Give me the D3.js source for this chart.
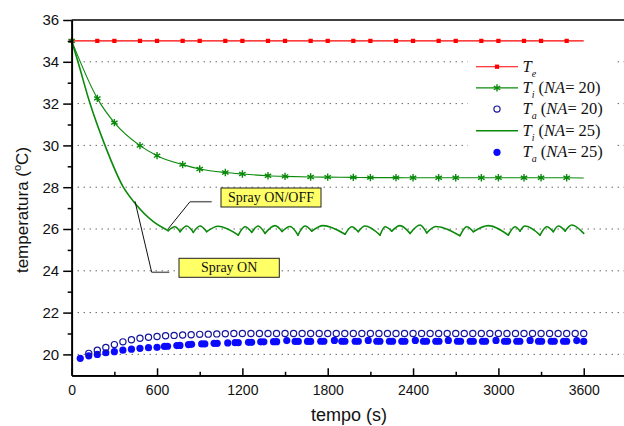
<!DOCTYPE html>
<html>
<head>
<meta charset="utf-8">
<script src="https://cdn.jsdelivr.net/npm/d3@7"></script>
<style>
  html, body { margin: 0; padding: 0; background: #fff; overflow: hidden; }
  svg { display: block; }
</style>
</head>
<body>
<svg id="chart" width="624" height="426"></svg>
<script>
// ---- data ---------------------------------------------------------------
// sampled series (markers on every sample except the final one at 3600 s)
const sampleTimes = [0, 180, 300, 480, 600, 780, 900, 1080, 1200, 1380, 1500, 1680, 1800,
  1980, 2100, 2280, 2400, 2580, 2700, 2880, 3000, 3180, 3300, 3480, 3600];
const teValues = [35, 35, 35, 35, 35, 35, 35, 35, 35, 35, 35, 35, 35,
  35, 35, 35, 35, 35, 35, 35, 35, 35, 35, 35, 35];
const ti20Values = [35, 32.25, 31.09, 29.99, 29.51, 29.08, 28.87, 28.70, 28.63, 28.55, 28.52, 28.49, 28.48,
  28.47, 28.46, 28.46, 28.45, 28.45, 28.45, 28.45, 28.45, 28.45, 28.45, 28.45, 28.44];

// inner temperature with NA = 25 (spray ON, then ON/OFF cycling)
const ti25Times = [0, 44, 129, 234, 363, 445, 574, 679,
  726, 762, 809, 855, 902, 949, 1029, 1171, 1219, 1266, 1310, 1359, 1430, 1479, 1535, 1591,
  1640, 1688, 1767, 1922, 1969, 2015, 2062, 2168, 2203, 2250, 2308, 2379, 2449, 2496, 2560,
  2730, 2777, 2824, 2929, 3070, 3117, 3152, 3187, 3293, 3340, 3386, 3422, 3469, 3516, 3600];
const ti25Values = [35, 34, 32, 30, 28, 27.23, 26.35, 25.92,
  26.11, 25.87, 26.14, 25.84, 26.14, 25.87, 26.13, 25.71, 26.11, 25.84, 26.14, 25.79, 26.16, 25.88, 26.12, 25.71,
  26.14, 25.90, 26.16, 25.75, 26.11, 25.87, 26.14, 25.71, 26.11, 25.90, 26.16, 25.79, 26.19, 25.81, 26.12,
  25.68, 26.11, 25.87, 26.16, 25.71, 26.11, 25.90, 26.14, 25.71, 26.11, 25.87, 26.14, 25.90, 26.19, 25.79];

// air temperature, NA = 20 (every 60 s)
const ta20Times = [120, 180, 240, 300, 360, 420, 480, 540, 600, 660, 720, 780, 840, 900, 960, 1020, 1080, 1140, 1200,
  1260, 1320, 1380, 1440, 1500, 1560, 1620, 1680, 1740, 1800, 1860, 1920, 1980, 2040, 2100, 2160, 2220, 2280,
  2340, 2400, 2460, 2520, 2580, 2640, 2700, 2760, 2820, 2880, 2940, 3000, 3060, 3120, 3180, 3240, 3300, 3360,
  3420, 3480, 3540, 3600];
const ta20Values = [20.05, 20.2, 20.33, 20.47, 20.6, 20.7, 20.77, 20.82, 20.86, 20.89, 20.91, 20.93, 20.94, 20.96, 20.97, 20.98, 20.99, 21.0, 21.0,
  21.0, 21.0, 21.0, 21.0, 21.0, 21.0, 21.0, 21.0, 21.0, 21.0, 21.0, 21.0, 21.0, 21.0, 21.0, 21.0, 21.0, 21.0,
  21.0, 21.0, 21.0, 21.0, 21.0, 21.0, 21.0, 21.0, 21.0, 21.0, 21.0, 21.0, 21.0, 21.0, 21.0, 21.0, 21.0, 21.0,
  21.0, 21.0, 21.0, 21.0];

// air temperature, NA = 25 (irregular output steps)
const ta25Times = [60, 120, 180, 240, 300, 360, 420, 480, 540, 600, 652, 674, 739, 761, 821, 843, 914, 936,
  1001, 1023, 1097, 1149, 1171, 1243, 1265, 1329, 1351, 1419, 1441, 1512, 1571, 1593, 1658, 1680,
  1751, 1773, 1847, 1899, 1921, 1993, 2015, 2085, 2145, 2167, 2234, 2256, 2321, 2343, 2416,
  2473, 2495, 2560, 2582, 2648, 2712, 2734, 2802, 2824, 2888, 2910, 2983, 3043, 3065, 3129, 3151,
  3223, 3282, 3304, 3371, 3393, 3458, 3480, 3551, 3600];
const ta25Values = [19.81, 19.93, 20.0, 20.08, 20.13, 20.2, 20.25, 20.29, 20.32, 20.34, 20.38, 20.39, 20.42, 20.43, 20.47, 20.48, 20.5, 20.5,
  20.53, 20.53, 20.55, 20.56, 20.56, 20.58, 20.58, 20.6, 20.6, 20.61, 20.61, 20.66, 20.62, 20.62, 20.62, 20.62,
  20.63, 20.63, 20.67, 20.63, 20.63, 20.63, 20.63, 20.67, 20.63, 20.63, 20.63, 20.63, 20.63, 20.63, 20.67,
  20.63, 20.63, 20.63, 20.63, 20.67, 20.63, 20.63, 20.63, 20.63, 20.63, 20.63, 20.67, 20.63, 20.63, 20.63, 20.63,
  20.67, 20.63, 20.63, 20.63, 20.63, 20.63, 20.63, 20.66, 20.62];

const xTicks = [0, 600, 1200, 1800, 2400, 3000, 3600];
const xMinorTicks = [300, 900, 1500, 2100, 2700, 3300, 3900];
const yTicks = [20, 22, 24, 26, 28, 30, 32, 34, 36];
const yMinorTicks = [21, 23, 25, 27, 29, 31, 33, 35];
const gridValues = [20, 22, 24, 26, 28, 30, 32, 34];

// ---- layout -------------------------------------------------------------
const svg = d3.select("#chart");
const plotLeft = 71.7, plotRight = 626.4, plotTop = 20, plotBottom = 375.3;

const x = d3.scaleLinear().domain([0, 3900]).range([plotLeft, plotRight]);
const y = d3.scaleLinear().domain([19, 36]).range([plotBottom, plotTop]);

const sans = "'Liberation Sans', Arial, sans-serif";
const serif = "'Liberation Serif', 'Times New Roman', serif";

// dotted horizontal grid
svg.append("g").selectAll("line").data(gridValues).join("line")
  .attr("x1", plotLeft).attr("x2", plotRight)
  .attr("y1", d => y(d)).attr("y2", d => y(d))
  .attr("stroke", "#222").attr("stroke-width", 1)
  .attr("stroke-dasharray", "1,5");

const zip = (ts, vs) => ts.map((t, i) => ({ t, v: vs[i] }));
const line = d3.line().x(d => x(d.t)).y(d => y(d.v)).curve(d3.curveMonotoneX);

const teData = zip(sampleTimes, teValues);
const ti20Data = zip(sampleTimes, ti20Values);
const ti25Data = zip(ti25Times, ti25Values);
const ta20Data = zip(ta20Times, ta20Values);
const ta25Data = zip(ta25Times, ta25Values);

const red = "#ff0000", green = "#0a8a0a", navy = "#14149c", blue = "#0a0aff";

// T_i (NA=25): split at every local minimum so each cooling cusp stays sharp
// while the reheating humps stay rounded
const segments = [];
let start = 0;
for (let i = 1; i < ti25Data.length - 1; i++) {
  if (ti25Data[i].v < ti25Data[i - 1].v && ti25Data[i].v < ti25Data[i + 1].v) {
    segments.push(ti25Data.slice(start, i + 1));
    start = i;
  }
}
segments.push(ti25Data.slice(start));
svg.append("g").selectAll("path").data(segments).join("path")
  .attr("d", line).attr("fill", "none")
  .attr("stroke", green).attr("stroke-width", 1.6)
  .attr("stroke-linecap", "round").attr("stroke-linejoin", "round");

// T_i (NA=20)
svg.append("path").datum(ti20Data)
  .attr("d", line).attr("fill", "none")
  .attr("stroke", green).attr("stroke-width", 1.1);

// T_e
svg.append("path").datum(teData)
  .attr("d", line).attr("fill", "none")
  .attr("stroke", red).attr("stroke-width", 1.1);

const square = d3.symbol().type(d3.symbolSquare).size(18);
const star = d3.symbol().type(d3.symbolAsterisk).size(38);

svg.append("g").selectAll("path").data(teData.slice(0, -1)).join("path")
  .attr("transform", d => `translate(${x(d.t)},${y(d.v)})`)
  .attr("d", square).attr("fill", red);

svg.append("g").selectAll("path").data(ti20Data.slice(0, -1)).join("path")
  .attr("transform", d => `translate(${x(d.t)},${y(d.v)})`)
  .attr("d", star).attr("fill", "none")
  .attr("stroke", green).attr("stroke-width", 1.4);

// T_a (NA=25), filled
svg.append("g").selectAll("circle").data(ta25Data).join("circle")
  .attr("cx", d => x(d.t)).attr("cy", d => y(d.v)).attr("r", 3.6)
  .attr("fill", blue);

// T_a (NA=20), open
svg.append("g").selectAll("circle").data(ta20Data).join("circle")
  .attr("cx", d => x(d.t)).attr("cy", d => y(d.v)).attr("r", 3.1)
  .attr("fill", "none").attr("stroke", navy).attr("stroke-width", 1.2);

// ---- legend -------------------------------------------------------------
const legend = svg.append("g");
legend.append("rect").attr("x", 468).attr("y", 54).attr("width", 147).attr("height", 112).attr("fill", "#fff");

const legendItems = [
  { sub: "e", tail: null, kind: "te" },
  { sub: "i", tail: "20", kind: "ti20" },
  { sub: "a", tail: "20", kind: "ta20" },
  { sub: "i", tail: "25", kind: "ti25" },
  { sub: "a", tail: "25", kind: "ta25" }
];
const rowY = [66.7, 87.9, 109.1, 130.8, 152.3];
const symX0 = 476, symX1 = 518, symXc = 497, textX = 522.5;

legendItems.forEach((it, i) => {
  const cy = rowY[i];
  const g = legend.append("g");
  if (it.kind === "te" || it.kind === "ti20" || it.kind === "ti25") {
    g.append("line").attr("x1", symX0).attr("x2", symX1).attr("y1", cy).attr("y2", cy)
      .attr("stroke", it.kind === "te" ? red : green)
      .attr("stroke-width", it.kind === "ti25" ? 1.6 : 1.1);
  }
  if (it.kind === "te") {
    g.append("path").attr("transform", `translate(${symXc},${cy})`).attr("d", square).attr("fill", red);
  } else if (it.kind === "ti20") {
    g.append("path").attr("transform", `translate(${symXc},${cy})`).attr("d", star)
      .attr("fill", "none").attr("stroke", green).attr("stroke-width", 1.4);
  } else if (it.kind === "ta20") {
    g.append("circle").attr("cx", symXc).attr("cy", cy).attr("r", 3.1)
      .attr("fill", "none").attr("stroke", navy).attr("stroke-width", 1.2);
  } else if (it.kind === "ta25") {
    g.append("circle").attr("cx", symXc).attr("cy", cy).attr("r", 3.6).attr("fill", blue);
  }
  const t = g.append("text").attr("x", textX).attr("y", cy + 5)
    .attr("font-family", serif).attr("font-size", 16.5).attr("fill", "#111");
  t.append("tspan").attr("font-style", "italic").text("T");
  t.append("tspan").attr("font-style", "italic").attr("font-size", 10).attr("dy", 5).text(it.sub);
  if (it.tail) {
    t.append("tspan").attr("dy", -5).text(" (");
    t.append("tspan").attr("font-style", "italic").text("NA");
    t.append("tspan").text("= " + it.tail + ")");
  }
});

// ---- annotations --------------------------------------------------------
const notes = [
  { label: "Spray ON/OFF", t: 679, v: 25.92, elbow: [190, 201.7], lineEnd: 211.7, box: [221, 188, 100, 19] },
  { label: "Spray ON", t: 445, v: 27.23, elbow: [151.7, 272.3], lineEnd: 169.3, box: [179, 258.3, 100.3, 19] }
];
notes.forEach(n => {
  const g = svg.append("g");
  g.append("line").attr("x1", x(n.t)).attr("y1", y(n.v) - 2)
    .attr("x2", n.elbow[0]).attr("y2", n.elbow[1])
    .attr("stroke", "#111").attr("stroke-width", 1);
  g.append("line").attr("x1", n.elbow[0]).attr("y1", n.elbow[1])
    .attr("x2", n.lineEnd).attr("y2", n.elbow[1])
    .attr("stroke", "#666").attr("stroke-width", 1.5);
  g.append("rect").attr("x", n.box[0]).attr("y", n.box[1])
    .attr("width", n.box[2]).attr("height", n.box[3])
    .attr("fill", "#ffff66").attr("stroke", "#222").attr("stroke-width", 1);
  g.append("text").attr("x", n.box[0] + n.box[2] / 2).attr("y", n.box[1] + 14)
    .attr("text-anchor", "middle").attr("font-family", serif).attr("font-size", 14)
    .attr("fill", "#111").text(n.label);
});

// ---- axes ---------------------------------------------------------------
const axisStyle = g => {
  g.selectAll(".domain").attr("stroke", "#000").attr("stroke-width", 1.7);
  g.selectAll(".tick line").attr("stroke", "#000").attr("stroke-width", 1.5);
};

svg.append("g").attr("transform", `translate(0,${plotBottom})`)
  .call(d3.axisBottom(x).tickValues(xMinorTicks).tickSizeInner(-3.5).tickSizeOuter(0).tickFormat(""))
  .call(axisStyle);
svg.append("g").attr("transform", `translate(0,${plotBottom})`)
  .call(d3.axisBottom(x).tickValues(xTicks).tickSizeInner(-7).tickSizeOuter(0).tickPadding(10).tickFormat(d3.format("d")))
  .call(axisStyle)
  .call(g => g.selectAll("text").attr("font-family", sans).attr("font-size", 14).attr("fill", "#111"));

svg.append("g").attr("transform", `translate(${plotLeft},0)`)
  .call(d3.axisLeft(y).tickValues(yMinorTicks).tickSizeInner(4).tickSizeOuter(0).tickFormat(""))
  .call(axisStyle);
svg.append("g").attr("transform", `translate(${plotLeft},0)`)
  .call(d3.axisLeft(y).tickValues(yTicks).tickSizeInner(8.5).tickSizeOuter(0).tickPadding(4).tickFormat(d3.format("d")))
  .call(axisStyle)
  .call(g => g.selectAll("text").attr("font-family", sans).attr("font-size", 15).attr("fill", "#111"));

// top frame
svg.append("line").attr("x1", plotLeft).attr("x2", plotRight).attr("y1", plotTop).attr("y2", plotTop)
  .attr("stroke", "#000").attr("stroke-width", 1.7);

// axis titles
svg.append("text").attr("x", (plotLeft + plotRight) / 2).attr("y", 421)
  .attr("text-anchor", "middle").attr("font-family", sans).attr("font-size", 18)
  .attr("fill", "#111").text("tempo (s)");

const yTitle = svg.append("text")
  .attr("transform", "translate(28,210) rotate(-90)")
  .attr("text-anchor", "middle").attr("font-family", sans).attr("font-size", 17)
  .attr("fill", "#111");
yTitle.append("tspan").text("temperatura (");
yTitle.append("tspan").attr("font-size", 11).attr("dy", -7).text("o");
yTitle.append("tspan").attr("dy", 7).text("C)");
</script>
</body>
</html>
